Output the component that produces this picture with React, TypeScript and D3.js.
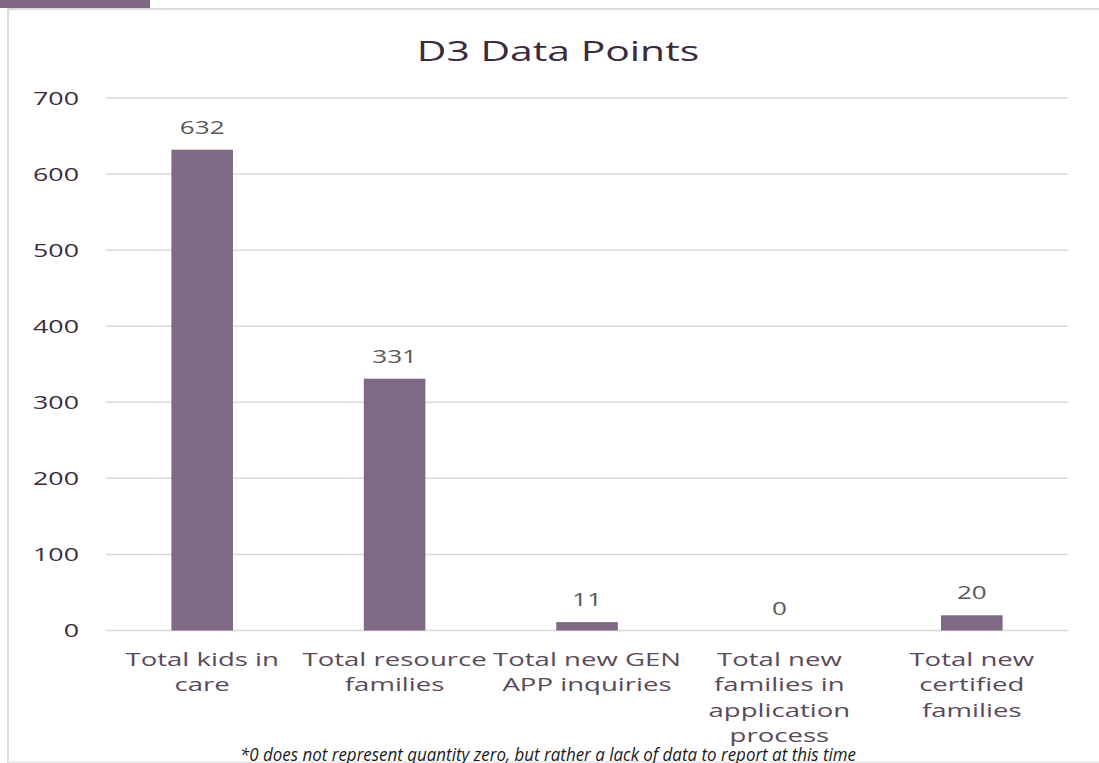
import React from "react";
import * as d3 from "d3";

const categories: string[][] = [
  ["Total kids in", "care"],
  ["Total resource", "families"],
  ["Total new GEN", "APP inquiries"],
  ["Total new", "families in", "application", "process"],
  ["Total new", "certified", "families"],
];
const values: number[] = [632, 331, 11, 0, 20];
const yTicks: number[] = [0, 100, 200, 300, 400, 500, 600, 700];
const title = "D3 Data Points";
const footnote = "*0 does not represent quantity zero, but rather a lack of data to report at this time";

const W = 1099;
const H = 763;
const FONT = "'Open Sans', 'DejaVu Sans', sans-serif";
const SX = 1.45;

function SText(props: {
  x: number;
  y: number;
  size: number;
  fill: string;
  anchor?: string;
  sx?: number;
  children: React.ReactNode;
}) {
  const { x, y, size, fill, anchor = "middle", sx = SX, children } = props;
  return (
    <text
      transform={`translate(${x},${y}) scale(${sx},1)`}
      fontFamily={FONT}
      fontSize={size}
      fill={fill}
      textAnchor={anchor}
    >
      {children}
    </text>
  );
}

export default function App() {
  const x = d3
    .scaleBand<number>()
    .domain(d3.range(values.length))
    .range([106, 1068])
    .paddingInner(0.68)
    .paddingOuter(0.34);
  const y = d3.scaleLinear().domain([0, 700]).range([630.5, 98]);
  const bw = x.bandwidth();

  return (
    <svg
      width={W}
      height={H}
      style={{ position: "absolute", left: 0, top: 0, background: "#fff" }}
    >
      <rect x={0} y={0} width={150} height={8} fill="#806783" />
      <line x1={7} x2={W} y1={9} y2={9} stroke="#d9d9d9" strokeWidth={2} />
      <line x1={8} x2={8} y1={9} y2={H} stroke="#d9d9d9" strokeWidth={2} />
      <line x1={8} x2={W} y1={762} y2={762} stroke="#e6e6e6" strokeWidth={1.5} />

      <SText x={558} y={61} size={28} fill="#3b2a3b" sx={1.46}>
        {title}
      </SText>

      {yTicks.map((t) => (
        <g key={t}>
          <line
            x1={106}
            x2={1068}
            y1={y(t)}
            y2={y(t)}
            stroke="#d9d9d9"
            strokeWidth={1.5}
          />
          <SText x={79} y={y(t) + 6.5} size={18.5} fill="#3d2c3d" anchor="end">
            {t}
          </SText>
        </g>
      ))}

      {values.map((v, i) => {
        const cx = (x(i) as number) + bw / 2;
        return (
          <g key={i}>
            <rect
              x={x(i) as number}
              y={y(v)}
              width={bw}
              height={y(0) - y(v)}
              fill="#7f6984"
            />
            <SText x={cx} y={y(v) - 16} size={18} fill="#595959">
              {v}
            </SText>
            {categories[i].map((line, j) => (
              <SText
                key={j}
                x={cx}
                y={666 + j * 25.3}
                size={18.5}
                fill="#5a4a5a"
                sx={1.49}
              >
                {line}
              </SText>
            ))}
          </g>
        );
      })}

      <text
        x={548}
        y={761}
        fontFamily={FONT}
        fontSize={18}
        fontStyle="italic"
        fill="#1a1a1a"
        textAnchor="middle"
        textLength={616}
        lengthAdjust="spacingAndGlyphs"
      >
        {footnote}
      </text>
    </svg>
  );
}
